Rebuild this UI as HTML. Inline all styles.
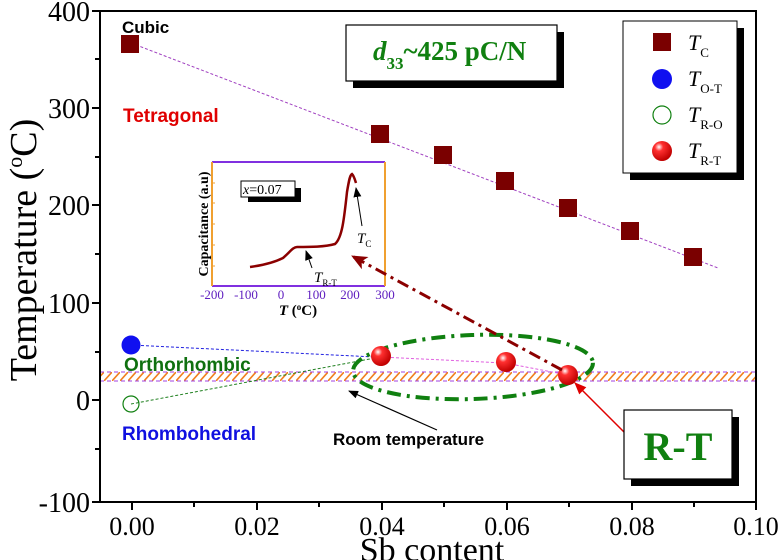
<!DOCTYPE html>
<html><head><meta charset="utf-8"><style>
html,body{margin:0;padding:0;background:#fff;}
svg{display:block;}
.s{font-family:"Liberation Serif",serif;}
.a{font-family:"Liberation Sans",sans-serif;font-weight:bold;}
</style></head><body>
<svg width="781" height="560" viewBox="0 0 781 560" xmlns="http://www.w3.org/2000/svg">
<defs>
<pattern id="h" patternUnits="userSpaceOnUse" width="8" height="9" patternTransform="translate(0,372)">
<line x1="0" y1="9" x2="8" y2="0" stroke="#f08020" stroke-width="1.6"/>
</pattern>
<radialGradient id="rg" cx="0.35" cy="0.3" r="0.7">
<stop offset="0" stop-color="#fff"/><stop offset="0.3" stop-color="#ff3030"/><stop offset="1" stop-color="#c00000"/>
</radialGradient>
<marker id="ab" markerWidth="10" markerHeight="10" refX="9" refY="5" orient="auto" markerUnits="userSpaceOnUse"><path d="M0,1 L10,5 L0,9 Z" fill="#000"/></marker>
<marker id="ar" markerWidth="12" markerHeight="12" refX="11" refY="6" orient="auto" markerUnits="userSpaceOnUse"><path d="M0,1 L12,6 L0,11 Z" fill="#e00000"/></marker>
<marker id="ad" markerWidth="16" markerHeight="14" refX="15" refY="7" orient="auto" markerUnits="userSpaceOnUse"><path d="M0,0 L16,7 L0,14 L4,7 Z" fill="#8b0000"/></marker>
</defs>
<rect x="100" y="372" width="656" height="9" fill="url(#h)"/>
<line x1="100" y1="372" x2="756" y2="372" stroke="#a040e0" stroke-dasharray="4,3"/>
<line x1="100" y1="381" x2="756" y2="381" stroke="#a040e0" stroke-dasharray="4,3"/>
<rect x="100" y="11" width="656" height="491" fill="none" stroke="#000" stroke-width="2"/>
<g stroke="#000" stroke-width="2">
<line x1="92" y1="11" x2="100" y2="11"/><line x1="92" y1="108" x2="100" y2="108"/><line x1="92" y1="205" x2="100" y2="205"/><line x1="92" y1="303" x2="100" y2="303"/><line x1="92" y1="400" x2="100" y2="400"/><line x1="92" y1="502" x2="100" y2="502"/>
<line x1="95" y1="59" x2="100" y2="59"/><line x1="95" y1="157" x2="100" y2="157"/><line x1="95" y1="254" x2="100" y2="254"/><line x1="95" y1="352" x2="100" y2="352"/><line x1="95" y1="449" x2="100" y2="449"/>
<line x1="132" y1="502" x2="132" y2="510"/><line x1="257" y1="502" x2="257" y2="510"/><line x1="382" y1="502" x2="382" y2="510"/><line x1="507" y1="502" x2="507" y2="510"/><line x1="632" y1="502" x2="632" y2="510"/><line x1="756" y1="502" x2="756" y2="510"/>
<line x1="194" y1="502" x2="194" y2="507"/><line x1="319" y1="502" x2="319" y2="507"/><line x1="444" y1="502" x2="444" y2="507"/><line x1="569" y1="502" x2="569" y2="507"/><line x1="694" y1="502" x2="694" y2="507"/>
</g>
<g class="s" font-size="28" text-anchor="end" fill="#000">
<text x="90" y="21">400</text><text x="90" y="118">300</text><text x="90" y="215">200</text><text x="90" y="313">100</text><text x="90" y="410">0</text><text x="90" y="512">-100</text>
</g>
<g class="s" font-size="26" text-anchor="middle" fill="#000">
<text x="132" y="535">0.00</text><text x="257" y="535">0.02</text><text x="382" y="535">0.04</text><text x="507" y="535">0.06</text><text x="632" y="535">0.08</text><text x="756" y="535">0.10</text>
</g>
<text class="s" x="432" y="561" font-size="34" text-anchor="middle">Sb content</text>
<text class="s" transform="translate(36,250) rotate(-90)" font-size="38" text-anchor="middle">Temperature (<tspan dy="-14" font-size="22">o</tspan><tspan dy="14">C)</tspan></text>
<text class="a" x="122" y="33" font-size="17" fill="#000">Cubic</text>
<text class="a" x="123" y="122" font-size="19" fill="#e00000">Tetragonal</text>
<text class="a" x="124" y="371" font-size="19" fill="#107010">Orthorhombic</text>
<text class="a" x="122" y="440" font-size="19" fill="#1010e0">Rhombohedral</text>
<text class="a" x="333" y="445" font-size="17" fill="#000">Room temperature</text>
<line x1="437" y1="430" x2="349" y2="391" stroke="#000" stroke-width="1.2" marker-end="url(#ab)"/>
<line x1="131" y1="43" x2="718" y2="268" stroke="#a040c0" stroke-width="1" stroke-dasharray="3,2"/>
<line x1="131" y1="345" x2="375" y2="357" stroke="#2020e0" stroke-width="1" stroke-dasharray="3,2"/>
<line x1="131" y1="404" x2="375" y2="358" stroke="#208020" stroke-width="1" stroke-dasharray="3,2"/>
<polyline points="381,357 505,363 568,375" fill="none" stroke="#e060e0" stroke-width="1" stroke-dasharray="3,2"/>
<ellipse cx="473" cy="367" rx="120" ry="32" transform="rotate(-2 473 367)" fill="none" stroke="#108010" stroke-width="4" stroke-dasharray="14,6,3,6"/>
<g fill="#7a0000">
<rect x="121" y="35" width="18" height="18"/><rect x="371" y="125" width="18" height="18"/><rect x="434" y="146" width="18" height="18"/><rect x="496" y="172" width="18" height="18"/><rect x="559" y="199" width="18" height="18"/><rect x="621" y="222" width="18" height="18"/><rect x="684" y="248" width="18" height="18"/>
</g>
<circle cx="131" cy="345" r="9.5" fill="#1010f0"/>
<circle cx="131" cy="404" r="8" fill="none" stroke="#108010" stroke-width="1.2"/>
<circle cx="381" cy="356" r="10" fill="url(#rg)"/>
<circle cx="506" cy="362" r="10" fill="url(#rg)"/>
<circle cx="568" cy="375" r="10" fill="url(#rg)"/>
<line x1="624" y1="432" x2="575" y2="383" stroke="#e00000" stroke-width="1.5" marker-end="url(#ar)"/>
<rect x="353" y="32" width="211" height="56" fill="#000"/>
<rect x="346" y="25" width="211" height="56" fill="#fff" stroke="#000" stroke-width="1.2"/>
<text class="s" x="373" y="60" font-size="27" font-weight="bold" fill="#108010"><tspan font-style="italic">d</tspan><tspan font-size="17" dy="9">33</tspan><tspan dy="-9">~425 pC/N</tspan></text>
<rect x="631" y="417" width="108" height="69" fill="#000"/>
<rect x="624" y="410" width="108" height="69" fill="#fff" stroke="#000" stroke-width="1.2"/>
<text class="s" x="678" y="460" font-size="40" font-weight="bold" fill="#108010" text-anchor="middle">R-T</text>
<rect x="630" y="28" width="114" height="152" fill="#000"/>
<rect x="623" y="21" width="114" height="152" fill="#fff" stroke="#000" stroke-width="1"/>
<rect x="653" y="33" width="18" height="18" fill="#7a0000"/>
<circle cx="662" cy="79" r="10" fill="#1010f0"/>
<circle cx="662" cy="115" r="9" fill="none" stroke="#108010" stroke-width="1.2"/>
<circle cx="662" cy="151" r="10" fill="url(#rg)"/>
<g class="s" font-size="22" font-style="italic">
<text x="688" y="50">T<tspan font-size="13" font-style="normal" dy="7">C</tspan></text>
<text x="688" y="86">T<tspan font-size="13" font-style="normal" dy="7">O-T</tspan></text>
<text x="688" y="122">T<tspan font-size="13" font-style="normal" dy="7">R-O</tspan></text>
<text x="688" y="158">T<tspan font-size="13" font-style="normal" dy="7">R-T</tspan></text>
</g>
<rect x="212" y="162" width="173" height="124" fill="#fff"/>
<line x1="212" y1="162" x2="385" y2="162" stroke="#8030e0" stroke-width="2"/>
<line x1="212" y1="286" x2="385" y2="286" stroke="#8030e0" stroke-width="2"/>
<line x1="212" y1="162" x2="212" y2="286" stroke="#f0a030" stroke-width="2"/>
<line x1="385" y1="162" x2="385" y2="286" stroke="#f0a030" stroke-width="2"/>
<g stroke="#f0a030" stroke-width="1"><line x1="212" y1="183" x2="215" y2="183"/><line x1="212" y1="203" x2="215" y2="203"/><line x1="212" y1="224" x2="215" y2="224"/><line x1="212" y1="245" x2="215" y2="245"/><line x1="212" y1="266" x2="215" y2="266"/></g>
<rect x="248" y="188" width="53" height="14" fill="#000"/>
<rect x="241" y="181" width="54" height="16" fill="#fff" stroke="#000" stroke-width="1"/>
<text class="s" x="243" y="194" font-size="14"><tspan font-style="italic">x</tspan>=0.07</text>
<path d="M250,267 C265,265 275,262 283,258 C290,252 293,247 297,247 C310,247 325,247 335,244 C342,238 344,220 347,192 C349,180 350,175 352,174 C354,176 355,180 356,183" fill="none" stroke="#8b0000" stroke-width="2.5"/>
<line x1="362" y1="226" x2="356" y2="188" stroke="#000" stroke-width="1" marker-end="url(#ab)"/>
<line x1="312" y1="268" x2="306" y2="251" stroke="#000" stroke-width="1" marker-end="url(#ab)"/>
<text class="s" x="357" y="243" font-size="15" font-style="italic">T<tspan font-size="9" font-style="normal" dy="4">C</tspan></text>
<text class="s" x="314" y="282" font-size="15" font-style="italic">T<tspan font-size="9" font-style="normal" dy="4">R-T</tspan></text>
<g class="s" font-size="13" fill="#6020c0" text-anchor="middle">
<text x="212" y="299">-200</text><text x="246" y="299">-100</text><text x="281" y="299">0</text><text x="316" y="299">100</text><text x="350" y="299">200</text><text x="385" y="299">300</text>
</g>
<text class="s" x="298" y="315" font-size="15" font-weight="bold" text-anchor="middle"><tspan font-style="italic">T</tspan> (<tspan font-size="9" dy="-5">o</tspan><tspan dy="5">C)</tspan></text>
<text class="s" transform="translate(208,224) rotate(-90)" font-size="14" font-weight="bold" text-anchor="middle">Capacitance (a.u)</text>
<line x1="562" y1="370" x2="352" y2="256" stroke="#8b0000" stroke-width="3" stroke-dasharray="12,5,3,5" marker-end="url(#ad)"/>
</svg>
</body></html>
